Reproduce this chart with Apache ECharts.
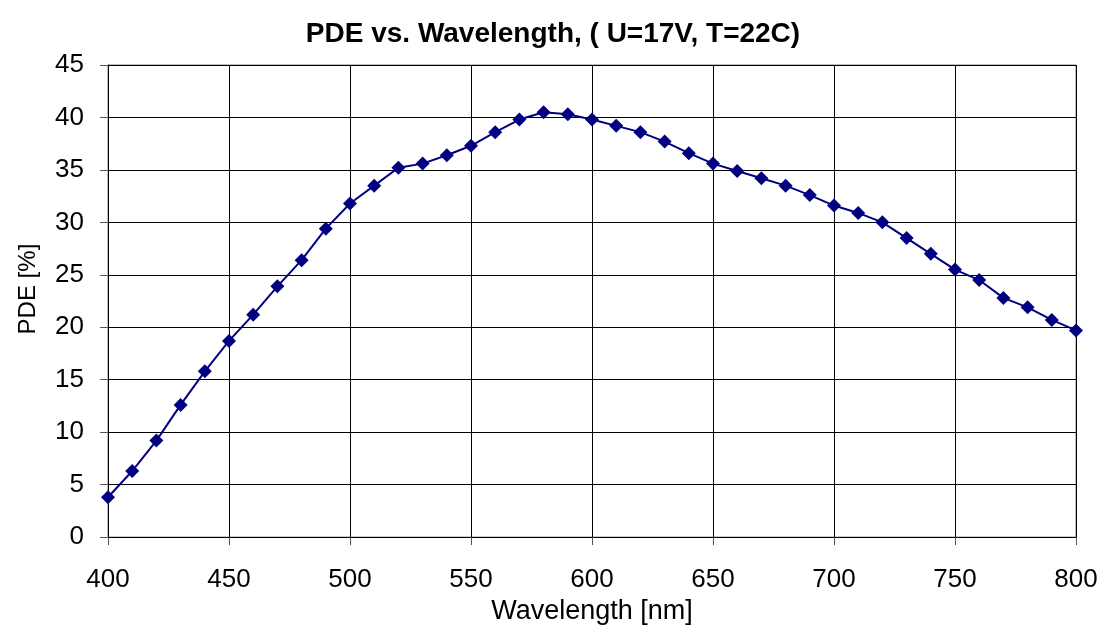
<!DOCTYPE html>
<html>
<head>
<meta charset="utf-8">
<script src="https://cdn.jsdelivr.net/npm/echarts@6/dist/echarts.min.js"></script>
<style>
  html, body { margin: 0; padding: 0; background: #fff; }
  #chart { width: 1106px; height: 630px; }
</style>
</head>
<body>
<div id="chart"></div>
<script>
// wavelength [nm]
const wavelengths = [400, 410, 420, 430, 440, 450, 460, 470, 480, 490,
  500, 510, 520, 530, 540, 550, 560, 570, 580, 590,
  600, 610, 620, 630, 640, 650, 660, 670, 680, 690,
  700, 710, 720, 730, 740, 750, 760, 770, 780, 790, 800];
// PDE [%]
const pdeValues = [3.8, 6.3, 9.2, 12.6, 15.8, 18.7, 21.2, 23.9, 26.4, 29.4,
  31.8, 33.5, 35.2, 35.6, 36.4, 37.3, 38.6, 39.8, 40.5, 40.3,
  39.8, 39.2, 38.6, 37.7, 36.6, 35.6, 34.9, 34.2, 33.5, 32.6,
  31.6, 30.9, 30.0, 28.5, 27.0, 25.5, 24.5, 22.8, 21.9, 20.7, 19.7];

const chart = echarts.init(document.getElementById("chart"));
const font = "'Liberation Sans', Arial, sans-serif";

const options = {
  animation: false,
  title: {
    text: "PDE vs. Wavelength, ( U=17V, T=22C)",
    left: "center",
    top: 15,
    textStyle: {
      fontFamily: font,
      fontSize: 28,
      fontWeight: "bold",
      color: "#000",
    },
  },
  grid: {
    left: 108,
    right: 30,
    top: 65,
    bottom: 90,
    show: true,
    borderColor: "#808080",
    borderWidth: 1,
  },
  xAxis: {
    type: "value",
    min: 400,
    max: 800,
    interval: 50,
    name: "Wavelength [nm]",
    nameLocation: "middle",
    nameGap: 58,
    nameTextStyle: { fontFamily: font, fontSize: 27, color: "#000" },
    axisLabel: {
      fontFamily: font,
      fontSize: 26,
      color: "#000",
      margin: 30,
    },
    axisLine: { show: true, lineStyle: { color: "#000", width: 1 } },
    axisTick: { show: true, length: 8, lineStyle: { color: "#555" } },
    splitLine: { show: true, lineStyle: { color: "#000", width: 1 } },
  },
  yAxis: {
    type: "value",
    min: 0,
    max: 45,
    interval: 5,
    name: "PDE [%]",
    nameLocation: "middle",
    nameGap: 68,
    nameRotate: 90,
    nameTextStyle: {
      fontFamily: font,
      fontSize: 24,
      color: "#000",
      padding: [0, 0, 0, 24],
    },
    axisLabel: {
      fontFamily: font,
      fontSize: 26,
      color: "#000",
      margin: 24,
    },
    axisLine: { show: true, lineStyle: { color: "#000", width: 1 } },
    axisTick: { show: true, length: 8, lineStyle: { color: "#555" } },
    splitLine: { show: true, lineStyle: { color: "#000", width: 1 } },
  },
  series: [
    {
      type: "line",
      data: wavelengths.map((w, i) => [w, pdeValues[i]]),
      symbol: "diamond",
      symbolSize: 14,
      showSymbol: true,
      lineStyle: { color: "#000080", width: 2 },
      itemStyle: { color: "#000080" },
    },
  ],
};
chart.setOption(options);
</script>
</body>
</html>
